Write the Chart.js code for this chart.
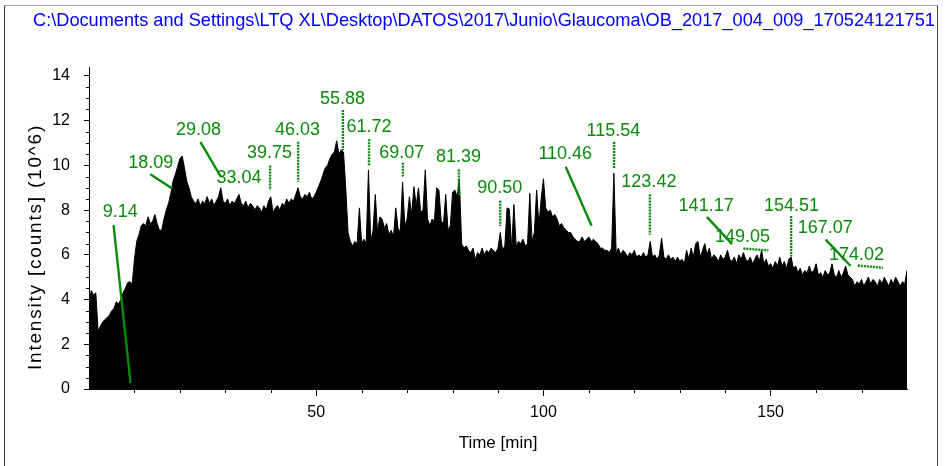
<!DOCTYPE html>
<html>
<head>
<meta charset="utf-8">
<script src="https://cdn.jsdelivr.net/npm/chart.js@4.4.1/dist/chart.umd.min.js"></script>
<style>
  html, body { margin: 0; padding: 0; background: #fff; }
  #wrap { position: relative; width: 946px; height: 466px; overflow: hidden; }
  #frame { position: absolute; left: 4px; top: 5px; width: 932px; height: 470px;
           border-left: 1px solid #404040; border-top: 1px solid #a0a0a0; border-right: 1px solid #404040;
           pointer-events: none; }
</style>
</head>
<body>
<div id="wrap">
  <canvas id="chart" width="946" height="466"></canvas>
  <div id="frame"></div>
</div>
<script>
const fileTitle = 'C:\\Documents and Settings\\LTQ XL\\Desktop\\DATOS\\2017\\Junio\\Glaucoma\\OB_2017_004_009_170524121751';

// intensity (10^6 counts), one value every 0.5 min from 0 to 180 min
const timeStep = 0.5;
const intensity = [
  3.8, 4.4, 4.2, 4.3, 2.6, 2.8, 3.0, 3.1, 3.2, 3.3, 3.5, 3.6, 3.9, 3.8, 4.0, 4.3, 4.5, 4.75, 4.8, 4.7,
  5.8, 6.6, 6.9, 7.3, 7.4, 7.3, 7.7, 7.4, 7.5, 7.8, 7.4, 7.1, 7.1, 7.6, 8.0, 8.3, 8.75, 9.3, 9.6, 9.95,
  10.3, 10.42, 9.9, 9.3, 9.0, 8.6, 8.4, 8.3, 8.5, 8.2, 8.4, 8.3, 8.6, 8.3, 8.5, 8.2, 8.4, 8.6, 9.0, 8.4,
  8.3, 8.5, 8.2, 8.4, 8.3, 8.5, 8.7, 8.3, 8.2, 8.4, 8.1, 8.3, 8.2, 8.0, 8.2, 8.1, 7.9, 8.2, 8.0, 8.4,
  8.6, 7.9, 8.1, 8.2, 8.0, 8.3, 8.2, 8.5, 8.3, 8.5, 8.4, 8.7, 9.0, 8.6, 8.5, 8.7, 8.6, 8.8, 8.5, 8.6,
  8.8, 9.05, 9.3, 9.6, 9.9, 10.0, 10.3, 10.5, 10.6, 11.1, 10.5, 10.7, 10.6, 9.0, 7.0, 6.6, 6.4, 6.6, 6.5, 8.1,
  6.5, 6.7, 6.5, 9.8, 6.6, 7.1, 8.7, 7.0, 7.7, 7.6, 7.2, 7.4, 6.9, 7.1, 6.8, 8.1, 7.2, 7.0, 9.25, 7.3,
  7.6, 8.6, 7.8, 9.05, 8.2, 9.0, 7.9, 8.0, 9.8, 7.6, 7.3, 7.6, 7.5, 9.0, 8.9, 7.5, 7.4, 8.7, 7.1, 7.3,
  8.8, 8.9, 8.6, 9.4, 6.5, 6.3, 6.4, 6.2, 6.1, 6.3, 5.8, 6.1, 6.0, 6.3, 6.0, 6.2, 6.1, 6.3, 6.2, 6.1,
  6.3, 7.0, 6.2, 6.4, 8.1, 8.05, 6.3, 8.25, 6.4, 6.6, 6.5, 6.7, 6.4, 6.5, 8.75, 6.6, 7.0, 8.9, 7.3, 8.5,
  9.4, 8.1, 7.9, 8.0, 7.7, 7.8, 7.6, 7.3, 7.4, 7.2, 7.1, 7.0, 7.0, 6.8, 6.7, 6.6, 6.6, 6.8, 6.6, 6.7,
  6.8, 6.6, 6.7, 6.6, 6.5, 6.3, 6.3, 6.2, 6.2, 6.1, 6.3, 9.65, 6.1, 6.3, 6.0, 6.2, 6.1, 5.9, 6.1, 6.0,
  6.2, 5.9, 6.0, 5.9, 6.1, 5.9, 6.0, 6.6, 5.9, 6.0, 5.8, 6.0, 6.75, 5.9, 5.8, 6.0, 5.8, 5.9, 5.7, 5.9,
  5.7, 5.8, 5.6, 6.2, 5.8, 6.3, 5.9, 6.5, 6.6, 5.9, 6.2, 6.5, 6.0, 6.3, 5.8, 6.0, 5.9, 5.7, 6.0, 5.8,
  5.9, 6.2, 5.8, 5.7, 5.9, 5.6, 6.0, 5.8, 6.1, 5.8, 5.7, 5.9, 5.6, 5.8, 6.0, 5.7, 6.2, 5.6, 5.8, 5.5,
  5.6, 5.4, 5.7, 5.5, 5.9, 5.5, 5.7, 5.4, 5.8, 5.9, 5.4, 5.5, 5.2, 5.4, 5.1, 5.3, 5.2, 5.5, 5.2, 5.3,
  5.6, 5.1, 5.2, 5.0, 5.3, 5.1, 5.2, 5.6, 5.1, 5.0, 5.3, 5.0, 5.2, 5.5, 5.1, 5.0, 4.9, 4.6, 4.8, 4.7,
  4.9, 4.6, 4.8, 5.0, 4.7, 4.9, 4.8, 4.6, 4.9, 4.7, 5.0, 4.8, 4.6, 4.9, 4.7, 5.0, 4.8, 4.6, 4.8, 4.7,
  5.3
];
const time = intensity.map((_, i) => i * timeStep);

const xMajorTicks = [50, 100, 150];
const yMajorTicks = [0, 2, 4, 6, 8, 10, 12, 14];

// peak labels: text, label anchor [time, intensity], leader line [from, to] or null
const peaks = [
  { text: '9.14',   at: [6.9, 7.9],    line: [[5.4, 7.33], [9.14, 0.27]] },
  { text: '18.09',  at: [13.6, 10.09], line: [[13.5, 9.6], [18.3, 8.97]] },
  { text: '29.08',  at: [24.1, 11.58], line: [[24.5, 11.05], [29.0, 9.5]] },
  { text: '33.04',  at: [33.0, 9.42],  line: null },
  { text: '39.75',  at: [39.7, 10.57], line: [[39.85, 10.0], [39.85, 8.9]] },
  { text: '46.03',  at: [45.9, 11.6],  line: [[46.03, 11.06], [46.03, 9.27]] },
  { text: '55.88',  at: [55.8, 12.97], line: [[55.88, 12.48], [55.88, 10.69]] },
  { text: '61.72',  at: [61.6, 11.7],  line: [[61.62, 11.17], [61.62, 10.0]] },
  { text: '69.07',  at: [68.8, 10.57], line: [[69.07, 10.12], [69.07, 9.5]] },
  { text: '81.39',  at: [81.3, 10.39], line: [[81.39, 9.82], [81.39, 8.68]] },
  { text: '90.50',  at: [90.4, 9.0],   line: [[90.5, 8.42], [90.5, 7.29]] },
  { text: '110.46', at: [104.8, 10.5], line: [[104.9, 9.94], [110.6, 7.3]] },
  { text: '115.54', at: [115.4, 11.54], line: [[115.54, 11.05], [115.54, 9.84]] },
  { text: '123.42', at: [123.2, 9.24], line: [[123.42, 8.7], [123.42, 6.9]] },
  { text: '141.17', at: [135.8, 8.18], line: [[135.96, 7.7], [141.5, 6.48]] },
  { text: '149.05', at: [143.8, 6.78], line: [[144.0, 6.28], [149.5, 6.2]] },
  { text: '154.51', at: [154.6, 8.17], line: [[154.51, 7.74], [154.51, 5.92]] },
  { text: '167.07', at: [162.0, 7.19], line: [[162.1, 6.68], [167.6, 5.5]] },
  { text: '174.02', at: [168.9, 6.0],  line: [[169.2, 5.52], [174.7, 5.42]] }
];

const FONT = '"Liberation Sans", Arial, sans-serif';
const GREEN = '#0a8a0a';

// title, y-axis title and minor ticks
const decorations = {
  id: 'decorations',
  beforeDraw(chart) {
    const ctx = chart.ctx;
    ctx.save();
    ctx.beginPath();
    ctx.rect(5, 5, 931, 461);
    ctx.clip();
    ctx.fillStyle = '#0000ff';
    ctx.font = '18.2px ' + FONT;
    ctx.textBaseline = 'middle';
    ctx.textAlign = 'left';
    ctx.fillText(fileTitle, 33, 21);
    ctx.restore();

    ctx.save();
    ctx.translate(36, 247);
    ctx.rotate(-Math.PI / 2);
    ctx.font = '19px ' + FONT;
    if ('letterSpacing' in ctx) ctx.letterSpacing = '1.8px';
    ctx.fillStyle = '#000';
    ctx.textAlign = 'center';
    ctx.textBaseline = 'middle';
    ctx.fillText('Intensity [counts] (10^6)', 0, 0);
    ctx.restore();
  },
  afterDraw(chart) {
    const {ctx, chartArea, scales: {x, y}} = chart;
    ctx.save();
    ctx.strokeStyle = '#000';
    ctx.lineWidth = 1;
    ctx.beginPath();
    for (let t = 10; t < x.max; t += 10) {
      if (xMajorTicks.includes(t)) continue;
      const px = Math.round(x.getPixelForValue(t)) + 0.5;
      ctx.moveTo(px, chartArea.bottom);
      ctx.lineTo(px, chartArea.bottom + 4);
    }
    for (let v = 0.5; v < y.max; v += 0.5) {
      if (yMajorTicks.includes(v)) continue;
      const py = Math.round(y.getPixelForValue(v)) + 0.5;
      ctx.moveTo(chartArea.left - 3, py);
      ctx.lineTo(chartArea.left, py);
    }
    ctx.stroke();
    ctx.restore();
  }
};

const peakLabels = {
  id: 'peakLabels',
  afterDatasetsDraw(chart) {
    const {ctx, scales: {x, y}} = chart;
    ctx.save();
    ctx.strokeStyle = GREEN;
    ctx.lineWidth = 2.4;
    peaks.forEach(p => {
      if (!p.line) return;
      const [a, b] = p.line;
      const straight = a[0] === b[0] || Math.abs(a[1] - b[1]) < 0.2;
      ctx.setLineDash(straight ? [2, 1] : []);
      ctx.beginPath();
      ctx.moveTo(x.getPixelForValue(a[0]), y.getPixelForValue(a[1]));
      ctx.lineTo(x.getPixelForValue(b[0]), y.getPixelForValue(b[1]));
      ctx.stroke();
    });
    ctx.fillStyle = GREEN;
    ctx.font = '18px ' + FONT;
    ctx.textAlign = 'center';
    ctx.textBaseline = 'middle';
    peaks.forEach(p => {
      ctx.fillText(p.text, x.getPixelForValue(p.at[0]), y.getPixelForValue(p.at[1]));
    });
    ctx.restore();
  }
};

new Chart(document.getElementById('chart'), {
  type: 'line',
  data: {
    datasets: [{
      data: intensity.map((v, i) => ({ x: time[i], y: v })),
      borderColor: '#000',
      backgroundColor: '#000',
      borderWidth: 1,
      fill: 'origin',
      pointRadius: 0,
      tension: 0
    }]
  },
  options: {
    responsive: false,
    animation: false,
    events: [],
    layout: { padding: { top: 67, right: 39, left: 0, bottom: 0 } },
    plugins: { legend: { display: false }, tooltip: { enabled: false } },
    scales: {
      x: {
        type: 'linear',
        min: 0,
        max: 180,
        afterFit(scale) { scale.height = 77; },
        afterBuildTicks(scale) { scale.ticks = xMajorTicks.map(v => ({ value: v })); },
        grid: { drawOnChartArea: false, tickLength: 7, color: '#000' },
        border: { color: '#000', width: 1 },
        ticks: { color: '#000', padding: 7, maxRotation: 0, font: { family: FONT, size: 16 } },
        title: { display: true, text: 'Time [min]', color: '#000',
                 padding: { top: 0, bottom: 12 }, font: { family: FONT, size: 17 } }
      },
      y: {
        min: 0,
        max: 14.4,
        afterFit(scale) { scale.width = 89; },
        afterBuildTicks(scale) { scale.ticks = yMajorTicks.map(v => ({ value: v })); },
        grid: { drawOnChartArea: false, tickLength: 5, color: '#000' },
        border: { color: '#000', width: 1 },
        ticks: { color: '#000', padding: 14, font: { family: FONT, size: 16 } }
      }
    }
  },
  plugins: [decorations, peakLabels]
});
</script>
</body>
</html>
